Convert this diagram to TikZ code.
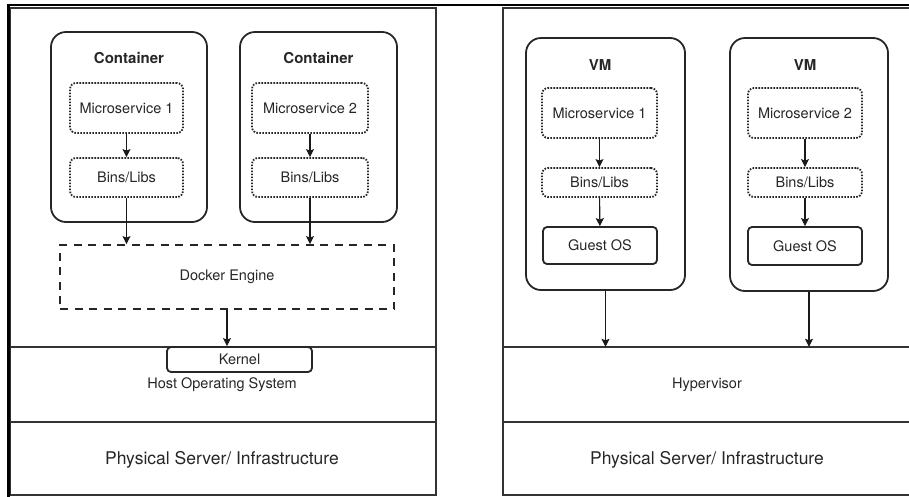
\documentclass[tikz,border=0pt]{standalone}
\usepackage{fontspec}
\setmainfont{TeX Gyre Heros}
\usetikzlibrary{arrows.meta, positioning}

\begin{document}
\begin{tikzpicture}[
    x=1pt, y=-1pt,
    every node/.style={font=\fontsize{14.5}{17}\selectfont, text=black!85},
    outer_style/.style={draw=black!85, line width=1.8pt, rounded corners=15pt, inner sep=0pt},
    dotted_style/.style={draw=black!85, line width=1.8pt, dash pattern=on 1.6pt off 1.4pt, rounded corners=6pt, inner sep=0pt},
    dashed_style/.style={draw=black!85, line width=1.8pt, dash pattern=on 8pt off 6.5pt, inner sep=0pt},
    solid_style/.style={draw=black!85, line width=1.8pt, rounded corners=4pt, inner sep=0pt},
    title_style/.style={font=\fontsize{15}{17}\selectfont\bfseries},
    layer_style/.style={draw=none, inner sep=0pt},
    arrow_style/.style={-{Stealth[length=8pt, width=8pt, inset=1.5pt]}, line width=1.1pt, black!90},
    frame_style/.style={draw=black!80, line width=1.8pt}
]
    \useasboundingbox (0,0) rectangle (909,496);

    % Frames
    \draw[frame_style] (10,8) rectangle (436,495);
    \draw[frame_style] (920,8) -- (503,8) -- (503,495) -- (920,495);
    \draw[frame_style] (10,347) -- (436,347);
    \draw[frame_style] (10,422) -- (436,422);
    \draw[frame_style] (503,347) -- (920,347);
    \draw[frame_style] (503,422) -- (920,422);
    \draw[black, line width=2.4pt] (7,5) -- (920,5);
    \draw[black, line width=3pt] (8.5,4) -- (8.5,497);

    % Layers
    \node[layer_style, minimum width=426, minimum height=75] (host) at (223,384.5) {};
    \node[layer_style, minimum width=406, minimum height=75] (hyper) at (706,384.5) {};
    \node (host_label) at (222,385) {Host Operating System};
    \node (hyper_label) at (707,385) {Hypervisor};
    \node[font=\fontsize{17.5}{20}\selectfont] (phys_left) at (222,460) {Physical Server/ Infrastructure};
    \node[font=\fontsize{17.5}{20}\selectfont] (phys_right) at (707,460) {Physical Server/ Infrastructure};

    % Containers
    \node[outer_style, minimum width=156, minimum height=190] (cont_1) at (129,127) {};
    \node[outer_style, minimum width=157, minimum height=190] (cont_2) at (318.5,127) {};
    \node[title_style] at (129,58) {Container};
    \node[title_style] at (318.5,58) {Container};
    \node[dotted_style, minimum width=113, minimum height=50] (ms_1) at (126.5,108) {Microservice 1};
    \node[dotted_style, minimum width=113, minimum height=39] (bins_1) at (126.5,177.5) {Bins/Libs};
    \node[dotted_style, minimum width=116, minimum height=50] (ms_2) at (310,108) {Microservice 2};
    \node[dotted_style, minimum width=116, minimum height=39] (bins_2) at (310,177.5) {Bins/Libs};
    \node[dashed_style, minimum width=334, minimum height=64] (docker) at (227,277) {Docker Engine};
    \node[solid_style, minimum width=145, minimum height=25] (kernel) at (239.5,359.5) {Kernel};

    % VMs
    \node[outer_style, minimum width=159, minimum height=252] (vm_1) at (605.5,164) {};
    \node[outer_style, minimum width=158, minimum height=253] (vm_2) at (809,164.5) {};
    \node[title_style] at (600,65) {VM};
    \node[title_style] at (805,65) {VM};
    \node[dotted_style, minimum width=115, minimum height=50] (vm_ms_1) at (599.5,113) {Microservice 1};
    \node[dotted_style, minimum width=115, minimum height=29] (vm_bins_1) at (599.5,182.5) {Bins/Libs};
    \node[solid_style, minimum width=114, minimum height=37] (guest_1) at (600,245.5) {Guest OS};
    \node[dotted_style, minimum width=114, minimum height=50] (vm_ms_2) at (805,113) {Microservice 2};
    \node[dotted_style, minimum width=114, minimum height=29] (vm_bins_2) at (805,182.5) {Bins/Libs};
    \node[solid_style, minimum width=114, minimum height=38] (guest_2) at (805,246) {Guest OS};

    % Arrows
    \draw[arrow_style] (ms_1) -- (bins_1);
    \draw[arrow_style] (ms_2) -- (bins_2);
    \draw[arrow_style] (bins_1.south) -- (bins_1.south |- docker.north);
    \draw[arrow_style] (bins_2.south) -- (bins_2.south |- docker.north);
    \draw[arrow_style] (docker.south) -- (docker.south |- kernel.north);
    \draw[arrow_style] (vm_ms_1) -- (vm_bins_1);
    \draw[arrow_style] (vm_bins_1) -- (guest_1);
    \draw[arrow_style] (vm_ms_2) -- (vm_bins_2);
    \draw[arrow_style] (vm_bins_2) -- (guest_2);
    \draw[arrow_style] (vm_1.south) -- (vm_1.south |- hyper.north);
    \draw[arrow_style] (vm_2.south) -- (vm_2.south |- hyper.north);

\end{tikzpicture}
\end{document}
